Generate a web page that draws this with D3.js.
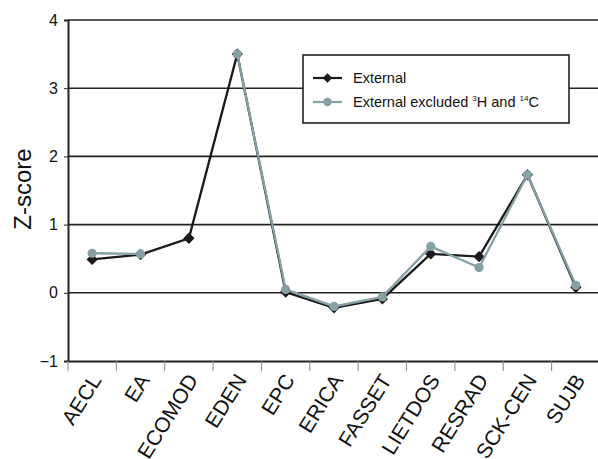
<!DOCTYPE html>
<html><head><meta charset="utf-8">
<script src="https://cdn.jsdelivr.net/npm/d3@7"></script>
<style>body{margin:0;background:#fff;} svg{display:block;} svg text{font-family:"Liberation Sans",Arial,sans-serif;}</style>
</head><body><svg id="c" width="598" height="459"></svg>
<script>
const categories = ["AECL","EA","ECOMOD","EDEN","EPC","ERICA","FASSET","LIETDOS","RESRAD","SCK-CEN","SUJB"];
const external = [0.49,0.56,0.80,3.50,0.01,-0.22,-0.09,0.57,0.53,1.73,0.08];
const excluded = [0.58,0.57,null,3.50,0.05,-0.20,-0.06,0.68,0.37,1.73,0.11];
const yTicks = [-1,0,1,2,3,4];

const svg = d3.select("#c");
const L = 68, R = 600, T = 20, B = 361;
const x = d3.scaleBand().domain(categories).range([L, R]);
const y = d3.scaleLinear().domain([-1, 4]).range([B, T]);
const FF = "Liberation Sans, Arial, sans-serif";

// gridlines
svg.append("g").selectAll("line").data(yTicks.filter(d => d > -1)).join("line")
  .attr("x1", L).attr("x2", R).attr("y1", d => y(d)).attr("y2", d => y(d))
  .attr("stroke", "#222").attr("stroke-width", 1.6);

// y axis
const ya = svg.append("g").attr("transform", `translate(${L},0)`)
  .call(d3.axisLeft(y).tickValues(yTicks).tickFormat(d3.format("d")).tickSize(4).tickPadding(6))
  .attr("font-family", FF);
ya.select(".domain").attr("stroke", "#222").attr("stroke-width", 2);
ya.selectAll(".tick line").attr("stroke", "#222");
ya.selectAll("text").attr("font-size", 16).attr("fill", "#111");

// x axis
const xa = svg.append("g").attr("transform", `translate(0,${B})`)
  .call(d3.axisBottom(x).tickSize(0).tickFormat(""));
xa.select(".domain").attr("stroke", "#222").attr("stroke-width", 2);
const bounds = categories.map(c => x(c)).concat([R]);
svg.append("g").selectAll("line").data(bounds).join("line")
  .attr("x1", d => d).attr("x2", d => d).attr("y1", B).attr("y2", B + 10)
  .attr("stroke", "#888").attr("stroke-width", 1);
svg.append("g").attr("font-family", FF).selectAll("text").data(categories).join("text")
  .attr("transform", d => `translate(${x(d) + x.bandwidth()/2 + 10},${B + 19}) rotate(-58)`)
  .attr("text-anchor", "end")
  .attr("font-size", 21).attr("fill", "#111").text(d => d);

// y label
svg.append("text").attr("transform", `translate(31,189) rotate(-90)`).attr("font-family", FF)
  .attr("text-anchor", "middle").attr("font-size", 24).attr("fill", "#111").text("Z-score");

const cx = (d, i) => x(categories[i]) + x.bandwidth()/2;
const line = d3.line().defined(d => d != null).x((d, i) => cx(d, i)).y(d => y(d));
const diamond = d3.symbol(d3.symbolSquare, 64);

svg.append("path").datum(external).attr("d", line).attr("fill", "none").attr("stroke", "#1a1a1a").attr("stroke-width", 2.3);
svg.append("g").selectAll("path").data(external).join("path")
  .attr("d", diamond)
  .attr("transform", (d, i) => `translate(${cx(d, i)},${y(d)}) rotate(45)`).attr("fill", "#1a1a1a");

const exIdx = excluded.map((d, i) => [d, i]).filter(p => p[0] != null);
svg.append("path").datum(excluded).attr("d", line).attr("fill", "none").attr("stroke", "#86a0a5").attr("stroke-width", 2.3);
svg.append("g").selectAll("circle").data(exIdx).join("circle")
  .attr("cx", p => cx(p[0], p[1])).attr("cy", p => y(p[0])).attr("r", 4.6).attr("fill", "#86a0a5");

// legend
const lg = svg.append("g").attr("font-family", FF);
lg.append("rect").attr("x", 303).attr("y", 55).attr("width", 266).attr("height", 68)
  .attr("fill", "#fff").attr("stroke", "#222").attr("stroke-width", 1.6);
lg.append("line").attr("x1", 313).attr("x2", 342).attr("y1", 78).attr("y2", 78).attr("stroke", "#1a1a1a").attr("stroke-width", 2.2);
lg.append("path").attr("d", d3.symbol(d3.symbolSquare, 44)).attr("transform", "translate(327.5,78) rotate(45)").attr("fill", "#1a1a1a");
lg.append("text").attr("x", 353).attr("y", 83).attr("font-size", 14.5).attr("fill", "#111").text("External");
lg.append("line").attr("x1", 313).attr("x2", 342).attr("y1", 102).attr("y2", 102).attr("stroke", "#86a0a5").attr("stroke-width", 2.2);
lg.append("circle").attr("cx", 327.5).attr("cy", 102).attr("r", 4.2).attr("fill", "#86a0a5");
const t2 = lg.append("text").attr("x", 353).attr("y", 107).attr("font-size", 14.5).attr("fill", "#111");
t2.append("tspan").text("External excluded ");
t2.append("tspan").attr("font-size", 8).attr("dy", -6).text("3");
t2.append("tspan").attr("dy", 6).text("H and ");
t2.append("tspan").attr("font-size", 8).attr("dy", -6).text("14");
t2.append("tspan").attr("dy", 6).text("C");
</script></body></html>
